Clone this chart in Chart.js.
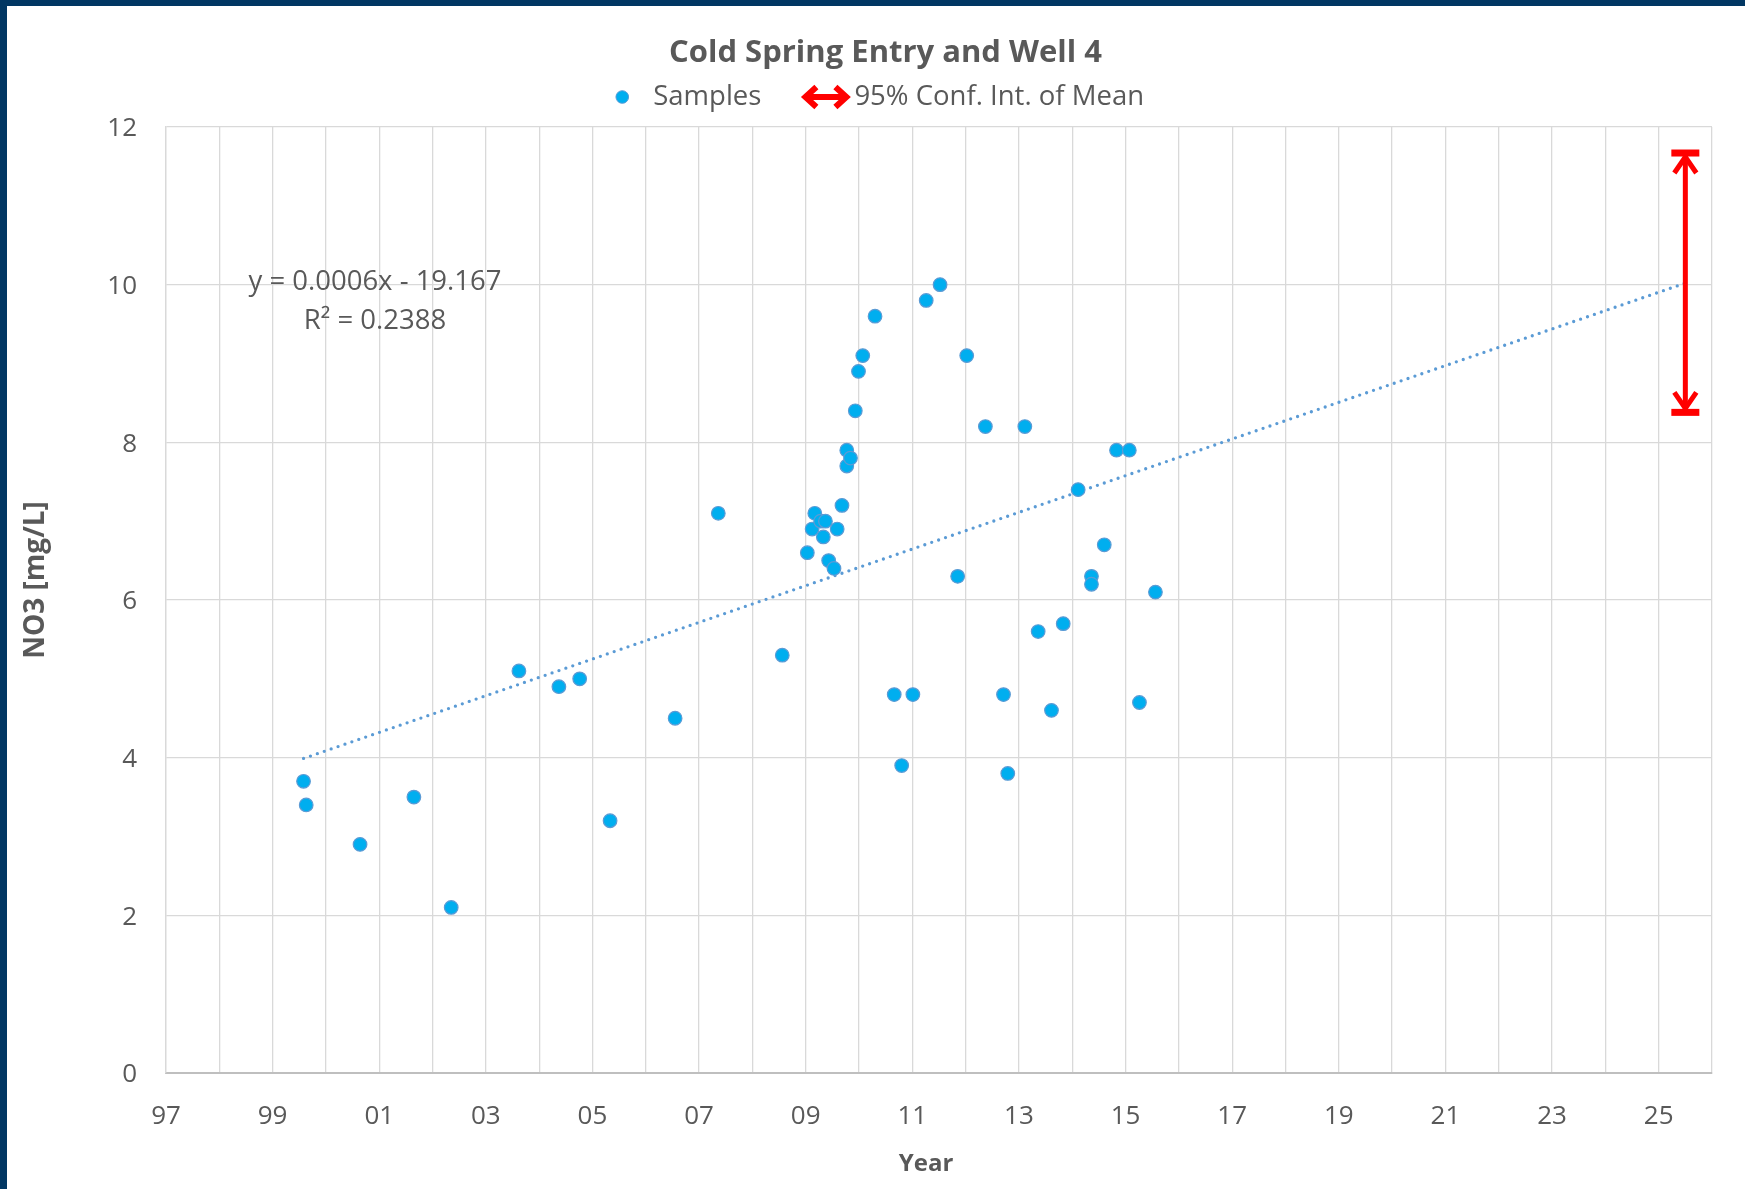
<!DOCTYPE html>
<html>
<head>
<meta charset="utf-8">
<script src="https://cdn.jsdelivr.net/npm/chart.js@4.4.1/dist/chart.umd.min.js"></script>
<style>
html, body { margin: 0; padding: 0; background: #ffffff; overflow: hidden; }
#frame { position: absolute; left: 0; top: 0; width: 1745px; height: 1189px; background: #013763; }
#wrap { position: absolute; left: 7px; top: 6px; width: 1738px; height: 1183px; background: #ffffff; overflow: hidden; }
canvas { display: block; }
</style>
</head>
<body>
<div id="frame"><div id="wrap"><canvas id="chart" width="1757" height="1183"></canvas></div></div>
<script>
// ---------- data ----------
const sampleYears = [
  1999.58, 1999.63, 2000.64, 2001.65, 2002.35,
  2003.62, 2004.37, 2004.76, 2005.33, 2006.55,
  2007.36, 2008.56, 2009.03, 2009.12, 2009.17,
  2009.28, 2009.33, 2009.37, 2009.43, 2009.53,
  2009.59, 2009.68, 2009.77, 2009.77, 2009.84,
  2009.93, 2009.99, 2010.07, 2010.30, 2010.66,
  2010.80, 2011.01, 2011.26, 2011.52, 2011.85,
  2012.02, 2012.37, 2012.71, 2012.79, 2013.11,
  2013.36, 2013.61, 2013.83, 2014.11, 2014.36,
  2014.36, 2014.60, 2014.83, 2015.07, 2015.26,
  2015.56
];
const no3Values = [
  3.7, 3.4, 2.9, 3.5, 2.1,
  5.1, 4.9, 5.0, 3.2, 4.5,
  7.1, 5.3, 6.6, 6.9, 7.1,
  7.0, 6.8, 7.0, 6.5, 6.4,
  6.9, 7.2, 7.9, 7.7, 7.8,
  8.4, 8.9, 9.1, 9.6, 4.8,
  3.9, 4.8, 9.8, 10.0, 6.3,
  9.1, 8.2, 4.8, 3.8, 8.2,
  5.6, 4.6, 5.7, 7.4, 6.3,
  6.2, 6.7, 7.9, 7.9, 4.7,
  6.1
];
const trendYears = [1999.58, 2025.5];
const trendValues = [3.99, 10.02];
const ciYears = [2025.5];
const ciLow = [8.38];
const ciHigh = [11.67];
const xTickYears = [1997, 1999, 2001, 2003, 2005, 2007, 2009, 2011, 2013, 2015, 2017, 2019, 2021, 2023, 2025];
const xTickLabels = ['97', '99', '01', '03', '05', '07', '09', '11', '13', '15', '17', '19', '21', '23', '25'];
const legendLabels = ['Samples', '95% Conf. Int. of Mean'];
const equationLines = ['y = 0.0006x - 19.167', 'R\u00B2 = 0.2388'];
const chartTitle = 'Cold Spring Entry and Well 4';
const xAxisTitle = 'Year';
const yAxisTitle = 'NO3 [mg/L]';

// ---------- styles ----------
const FONT = '"Open Sans", "DejaVu Sans", sans-serif';
const textColor = '#595959';
const gridColor = '#d9d9d9';
const pointFill = '#00AEEF';
const pointBorder = '#5b9bd5';
const red = '#ff0000';

function drawDoubleArrow(ctx, left, cy, w, h) {
  const right = left + w, hw = 11, hh = h / 2;
  ctx.save();
  ctx.strokeStyle = red; ctx.lineWidth = 6; ctx.lineJoin = 'miter'; ctx.lineCap = 'butt';
  ctx.beginPath(); ctx.moveTo(left + 4, cy); ctx.lineTo(right - 4, cy); ctx.stroke();
  ctx.beginPath(); ctx.moveTo(left + 4 + hw, cy - hh + 3); ctx.lineTo(left + 4, cy); ctx.lineTo(left + 4 + hw, cy + hh - 3); ctx.stroke();
  ctx.beginPath(); ctx.moveTo(right - 4 - hw, cy - hh + 3); ctx.lineTo(right - 4, cy); ctx.lineTo(right - 4 - hw, cy + hh - 3); ctx.stroke();
  ctx.restore();
}

// confidence-interval bar, placed through the chart's scales
const errorBarPlugin = {
  id: 'ciBar',
  afterDatasetsDraw(chart) {
    const xs = chart.scales.x, ys = chart.scales.y, ctx = chart.ctx;
    for (let i = 0; i < ciYears.length; i++) {
      const x = xs.getPixelForValue(ciYears[i]);
      const yt = ys.getPixelForValue(ciHigh[i]);
      const yb = ys.getPixelForValue(ciLow[i]);
      ctx.save();
      ctx.strokeStyle = red; ctx.fillStyle = red;
      ctx.lineWidth = 5; ctx.lineCap = 'butt'; ctx.lineJoin = 'miter';
      ctx.beginPath(); ctx.moveTo(x, yt + 2); ctx.lineTo(x, yb - 2); ctx.stroke();
      ctx.fillRect(x - 14, yt - 3.5, 28, 7);
      ctx.fillRect(x - 14, yb - 3.5, 28, 7);
      ctx.beginPath(); ctx.moveTo(x - 11, yt + 20); ctx.lineTo(x, yt + 4); ctx.lineTo(x + 11, yt + 20); ctx.stroke();
      ctx.beginPath(); ctx.moveTo(x - 11, yb - 20); ctx.lineTo(x, yb - 4); ctx.lineTo(x + 11, yb - 20); ctx.stroke();
      ctx.restore();
    }
  }
};

// trendline equation, axis titles and legend row
const textPlugin = {
  id: 'texts',
  afterDraw(chart, args, opts) {
    const xs = chart.scales.x, ys = chart.scales.y, ctx = chart.ctx;
    ctx.save();
    ctx.fillStyle = textColor;
    ctx.textBaseline = 'middle';

    // equation
    ctx.font = '27.5px ' + FONT;
    ctx.textAlign = 'center';
    const ex = xs.getPixelForValue(opts.eqX);
    equationLines.forEach((t, i) => ctx.fillText(t, ex, ys.getPixelForValue(opts.eqY[i])));

    // axis titles
    ctx.font = 'bold 24px ' + FONT;
    ctx.fillText(xAxisTitle, opts.xTitle[0], opts.xTitle[1]);
    ctx.save();
    ctx.translate(opts.yTitle[0], opts.yTitle[1]);
    ctx.rotate(-Math.PI / 2);
    ctx.font = 'bold 28px ' + FONT;
    ctx.fillText(yAxisTitle, 0, 0);
    ctx.restore();

    // legend
    ctx.font = '27.5px ' + FONT;
    ctx.textAlign = 'left';
    const w1 = ctx.measureText(legendLabels[0]).width;
    const w2 = ctx.measureText(legendLabels[1]).width;
    const total = 37.3 + w1 + 40 + 53 + w2;
    const start = opts.legendCenter - total / 2;
    const ly = opts.legendY;
    ctx.beginPath(); ctx.arc(start + 6.3, ly, 6.3, 0, Math.PI * 2);
    ctx.fillStyle = pointFill; ctx.fill();
    ctx.lineWidth = 1; ctx.strokeStyle = pointBorder; ctx.stroke();
    ctx.fillStyle = textColor;
    const t1 = start + 37.3;
    ctx.fillText(legendLabels[0], t1, ly);
    const aLeft = t1 + w1 + 40;
    drawDoubleArrow(ctx, aLeft, ly, 49, 26);
    ctx.fillStyle = textColor;
    ctx.fillText(legendLabels[1], aLeft + 53, ly);
    ctx.restore();
  }
};

function build() {
  const samples = sampleYears.map((x, i) => ({ x, y: no3Values[i] }));
  const trend = trendYears.map((x, i) => ({ x, y: trendValues[i] }));

  new Chart(document.getElementById('chart'), {
    type: 'scatter',
    data: {
      datasets: [
        {
          label: legendLabels[0],
          data: samples,
          order: 0,
          pointRadius: 6.8,
          pointHoverRadius: 6.8,
          pointBackgroundColor: pointFill,
          pointBorderColor: pointBorder,
          pointBorderWidth: 1.2,
          showLine: false
        },
        {
          label: 'Linear trend',
          data: trend,
          order: 1,
          showLine: true,
          borderColor: pointBorder,
          borderWidth: 3.3,
          borderDash: [0, 7.3],
          borderCapStyle: 'round',
          pointRadius: 0,
          fill: false
        }
      ]
    },
    options: {
      responsive: false,
      animation: false,
      events: [],
      layout: { padding: 0 },
      plugins: {
        tooltip: { enabled: false },
        legend: { display: false },
        title: {
          display: true,
          text: chartTitle,
          color: textColor,
          font: { family: FONT, size: 31, weight: 'bold' },
          padding: { top: 28.6, bottom: 55.2 }
        },
        texts: {
          eqX: 2000.92, eqY: [10.03, 9.535],
          xTitle: [919, 1158],
          yTitle: [29, 574],
          legendCenter: 873,
          legendY: 91
        }
      },
      scales: {
        x: {
          type: 'linear',
          position: 'bottom',
          min: 1997,
          max: 2026,
          afterFit: (s) => { s.height = 116; },
          ticks: {
            stepSize: 1,
            autoSkip: false,
            maxRotation: 0,
            padding: 28,
            color: textColor,
            font: { family: FONT, size: 26 },
            callback: (v) => {
              const k = xTickYears.indexOf(Math.round(v));
              return k >= 0 ? xTickLabels[k] : '';
            }
          },
          grid: { color: gridColor, lineWidth: 1.3, drawTicks: false },
          border: { color: '#bfbfbf', width: 2 },
          title: { display: false }
        },
        y: {
          type: 'linear',
          position: 'left',
          min: 0,
          max: 12,
          afterFit: (s) => { s.width = 159; },
          ticks: {
            stepSize: 2,
            padding: 29,
            labelOffset: 2,
            color: textColor,
            font: { family: FONT, size: 26 }
          },
          grid: { color: gridColor, lineWidth: 1.3, drawTicks: false },
          border: { color: gridColor, width: 1.3 },
          title: { display: false }
        },
        rightSpace: {
          type: 'linear', position: 'right', display: true,
          afterFit: (s) => { s.width = 52; },
          ticks: { display: false }, grid: { display: false }, border: { display: false }
        }
      }
    },
    plugins: [errorBarPlugin, textPlugin]
  });
}

const fontLoads = [
  '27px "Open Sans"', 'bold 31px "Open Sans"'
].map(f => (document.fonts && document.fonts.load) ? document.fonts.load(f).catch(() => null) : Promise.resolve());
Promise.all(fontLoads).then(build, build);
</script>
</body>
</html>
